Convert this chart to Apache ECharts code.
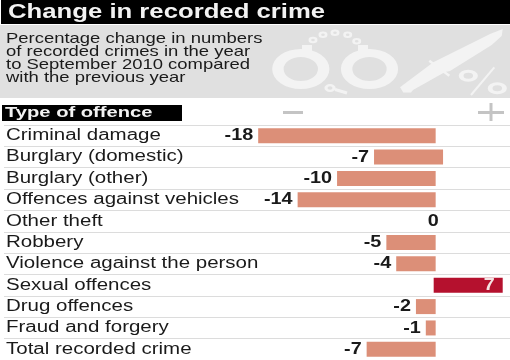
<!DOCTYPE html>
<html>
<head>
<meta charset="utf-8">
<title>Change in recorded crime</title>
<style>html,body{margin:0;padding:0;background:#fff}</style>
</head>
<body>
<div id="container" style="width:510px;height:360px;"></div>
<script src="https://cdn.jsdelivr.net/npm/echarts@6/dist/echarts.min.js"></script>
<script>
var categories = ['Criminal damage', 'Burglary (domestic)', 'Burglary (other)', 'Offences against vehicles', 'Other theft', 'Robbery', 'Violence against the person', 'Sexual offences', 'Drug offences', 'Fraud and forgery', 'Total recorded crime'];
var changes = [-18, -7, -10, -14, 0, -5, -4, 7, -2, -1, -7];
// in the original two bars do not start on the zero line
var barStart = [0, 0.75, 0, 0, 0, 0, 0, -0.2, 0, 0, 0];
var introLines = ['Percentage change in numbers', 'of recorded crimes in the year', 'to September 2010 compared', 'with the previous year'];

var font = '"Liberation Sans", Arial, sans-serif';
var iconColor = '#f3f3f3';
var chart = echarts.init(document.getElementById('container'));

// the source picture is stretched sideways, so all its text gets a scaleX
function wideText(text, x, y, scaleX, fontCss, fill, align) {
	return {
		type: 'text',
		x: x,
		y: y,
		scaleX: scaleX,
		style: { text: text, x: 0, y: 0, align: align || 'left', verticalAlign: 'middle', font: fontCss, fill: fill }
	};
}

function ring(cx, cy, r, r0, scaleX) {
	return { type: 'ring', x: cx, y: cy, scaleX: scaleX, shape: { cx: 0, cy: 0, r: r, r0: r0 }, style: { fill: iconColor } };
}

function poly(points) {
	return { type: 'polygon', shape: { points: points }, style: { fill: iconColor } };
}

// thick line as a thin polygon
function bar(x1, y1, x2, y2, w) {
	var dx = x2 - x1, dy = y2 - y1;
	var len = Math.sqrt(dx * dx + dy * dy);
	var nx = -dy / len * w / 2, ny = dx / len * w / 2;
	return poly([[x1 + nx, y1 + ny], [x2 + nx, y2 + ny], [x2 - nx, y2 - ny], [x1 - nx, y1 - ny]]);
}

function drawBar(params, api) {
	var i = params.dataIndex;
	var value = api.value(1);
	var start = barStart[i];
	var a = api.coord([start, i]);
	var b = api.coord([start + value, i]);
	var h = 15;
	var children = [wideText(categories[i], 6, a[1], 1.28, '16px ' + font, '#1a1a1a')];
	if (value !== 0) {
		children.push({
			type: 'rect',
			shape: { x: Math.min(a[0], b[0]), y: a[1] - h / 2, width: Math.abs(b[0] - a[0]), height: h },
			style: { fill: value > 0 ? '#b5112e' : '#dc8f78' }
		});
	}
	var valueX = value > 0 ? b[0] - 8 : (value === 0 ? b[0] + 3 : b[0] - 5);
	children.push(wideText(String(value), valueX, a[1], 1.2, 'bold 16.5px ' + font, value > 0 ? '#f4e3e3' : '#1a1a1a', 'right'));
	return { type: 'group', children: children };
}

var option = {
	animation: false,
	backgroundColor: '#fff',
	grid: { left: 4, right: 0, top: 125, bottom: 0 },
	xAxis: { type: 'value', min: -43.78, max: 7.54, show: false },
	yAxis: {
		type: 'category',
		inverse: true,
		data: categories,
		axisLine: { show: false },
		axisTick: { show: false },
		axisLabel: { show: false },
		splitLine: { show: true, lineStyle: { color: '#dcdcdc', width: 1 } }
	},
	series: [{
		type: 'custom',
		renderItem: drawBar,
		encode: { x: 1, y: 0 },
		data: changes.map(function (v, i) { return [i, v]; })
	}],
	graphic: [
		{ type: 'rect', shape: { x: 1, y: 0, width: 509, height: 24 }, style: { fill: '#000' } },
		wideText('Change in recorded crime', 8, 12, 1.285, 'bold 20px ' + font, '#f2f2f2'),
		{ type: 'rect', shape: { x: 0, y: 25, width: 510, height: 73 }, style: { fill: '#e0e0e0' } },
		wideText(introLines[0], 6, 38.5, 1.23, '15px ' + font, '#1a1a1a'),
		wideText(introLines[1], 6, 51.7, 1.23, '15px ' + font, '#1a1a1a'),
		wideText(introLines[2], 6, 65, 1.23, '15px ' + font, '#1a1a1a'),
		wideText(introLines[3], 6, 78.2, 1.23, '15px ' + font, '#1a1a1a'),
		// handcuffs
		ring(300.8, 69, 20, 12, 1.43),
		ring(369.5, 69, 20, 12, 1.43),
		poly([[302, 45], [312, 45], [312, 52], [302, 52]]),
		poly([[358, 45], [368, 45], [368, 52], [358, 52]]),
		ring(313, 40, 3.2, 1.3, 1.4),
		ring(323, 34.7, 3.2, 1.3, 1.4),
		ring(335, 32.7, 3.2, 1.3, 1.4),
		ring(347.7, 34.7, 3.2, 1.3, 1.4),
		ring(356.7, 41.3, 3.2, 1.3, 1.4),
		ring(330, 88, 4, 1.8, 1.4),
		bar(335, 89.5, 347, 93, 3),
		// knife
		poly([[502.7, 29], [501.7, 36], [491.7, 45], [450, 71], [445, 72], [413, 90], [411, 92.5], [403.3, 92.5], [400, 87.3], [433.3, 62.3], [470, 44], [490, 34]]),
		bar(429.3, 60.7, 449.3, 75.7, 2.5),
		// percent sign
		ring(468.3, 75.7, 6, 3, 1.6),
		ring(497.3, 88.3, 6, 3, 1.6),
		bar(494.3, 67.3, 471, 95, 2),
		// header row
		{ type: 'rect', shape: { x: 2, y: 105, width: 180, height: 16 }, style: { fill: '#000' } },
		wideText('Type of offence', 5, 112.5, 1.3, 'bold 15.5px ' + font, '#f2f2f2'),
		{ type: 'rect', shape: { x: 283, y: 111, width: 20, height: 3 }, style: { fill: '#c4c4c4' } },
		{ type: 'rect', shape: { x: 478, y: 111, width: 26, height: 3 }, style: { fill: '#c4c4c4' } },
		{ type: 'rect', shape: { x: 489.5, y: 103, width: 3, height: 18 }, style: { fill: '#c4c4c4' } }
	]
};
chart.setOption(option);
</script>
</body>
</html>
